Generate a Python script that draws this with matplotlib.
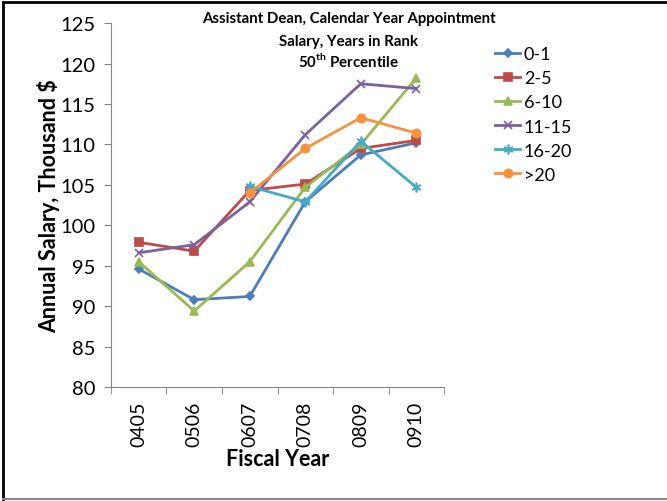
import matplotlib
matplotlib.use("Agg")
import matplotlib.pyplot as plt
from matplotlib.lines import Line2D

plt.rcParams["font.family"] = ["Lato", "DejaVu Sans"]
plt.rcParams["mathtext.fontset"] = "custom"
plt.rcParams["mathtext.bf"] = "Lato:bold"
plt.rcParams["mathtext.rm"] = "Lato"

years = ["0405", "0506", "0607", "0708", "0809", "0910"]

s_0_1 = [94.6, 90.8, 91.2, 102.9, 108.7, 110.2]
s_2_5 = [97.9, 96.8, 104.3, 105.1, 109.5, 110.5]
s_6_10 = [95.5, 89.4, 95.5, 104.7, 110.0, 118.2]
s_11_15 = [96.6, 97.6, 102.9, 111.2, 117.5, 116.9]
s_16_20 = [None, None, 104.8, 102.9, 110.4, 104.7]
s_20p = [None, None, 104.0, 109.5, 113.3, 111.4]

series = [
    ("0-1", s_0_1, "#4A7EBB", "D", 4),
    ("2-5", s_2_5, "#BE4B48", "s", 6),
    ("6-10", s_6_10, "#98B954", "^", 6),
    ("11-15", s_11_15, "#7D60A0", "x", 6),
    ("16-20", s_16_20, "#46AAC5", (6, 2, 0), 7),
    (">20", s_20p, "#F69240", "o", 6),
]

fig = plt.figure(figsize=[6.67, 5.02], dpi=100)
ax = fig.add_axes([0.1664, 0.227, 0.4993, 0.725])

for name, vals, col, mk, ms in series:
    xx = [i for i, v in enumerate(vals) if v is not None]
    yy = [v for v in vals if v is not None]
    ax.plot(xx, yy, color=col, marker=mk, markersize=ms, linewidth=2,
            markeredgewidth=1.2, label=name)

ax.set_xlim(-0.5, 5.5)
ax.set_ylim(80, 125)
ax.set_yticks(range(80, 126, 5))
ax.set_xticks(range(len(years)))
ax.set_xticklabels(years, rotation=90, fontsize=14)
ax.set_xticks([i - 0.5 for i in range(len(years) + 1)], minor=True)
ax.tick_params(axis="x", which="major", length=0, pad=10)
ax.tick_params(axis="x", which="minor", length=5, color="#868686", direction="out")
ax.tick_params(axis="y", length=5, color="#868686", labelsize=14.5, pad=6)

for side in ["top", "right"]:
    ax.spines[side].set_visible(False)
for side in ["left", "bottom"]:
    ax.spines[side].set_color("#868686")

ax.set_ylabel("Annual Salary, Thousand $", fontsize=15.5, fontweight="bold", labelpad=0)
ax.set_xlabel("Fiscal Year", fontsize=15.5, fontweight="bold", labelpad=1)

fig.text(0.523, 0.962, "Assistant Dean, Calendar Year Appointment", ha="center",
         va="center", fontsize=10.8, fontweight="bold")
fig.text(0.523, 0.916, "Salary, Years in Rank", ha="center", va="center",
         fontsize=10.8, fontweight="bold")
fig.text(0.523, 0.878, r"50$^{\mathbf{th}}$ Percentile", ha="center", va="center",
         fontsize=10.8, fontweight="bold")

ax.legend(loc="upper left", bbox_to_anchor=(0.742, 0.906), bbox_transform=fig.transFigure,
          frameon=False, borderpad=0, borderaxespad=0, fontsize=13,
          handlelength=1.4, handletextpad=0.2, labelspacing=0.45)

# figure frame
fig.add_artist(Line2D([0.005, 0.005], [0.004, 0.994], color="black", lw=2, transform=fig.transFigure))
fig.add_artist(Line2D([0.005, 1.0], [0.994, 0.994], color="black", lw=2, transform=fig.transFigure))
fig.add_artist(Line2D([0.005, 1.0], [0.004, 0.004], color="#888888", lw=1.5, transform=fig.transFigure))

fig.savefig("out.png", dpi=100)
plt.close()
